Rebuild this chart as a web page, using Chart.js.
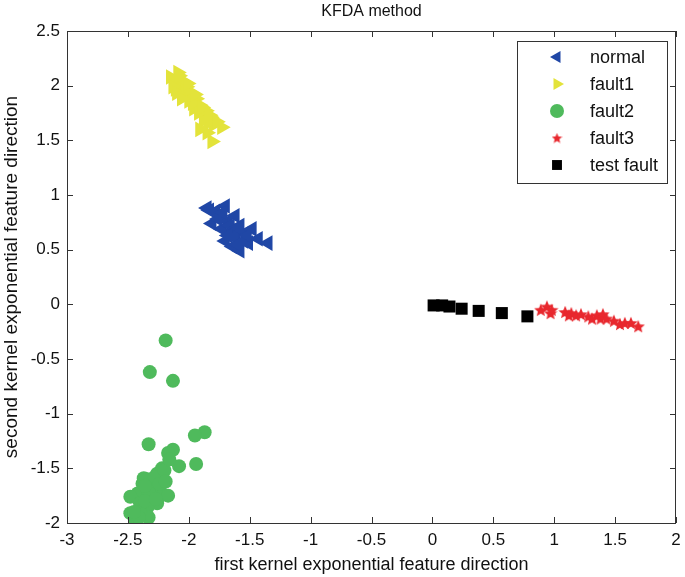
<!DOCTYPE html>
<html>
<head>
<meta charset="utf-8">
<script src="https://cdn.jsdelivr.net/npm/chart.js@4.4.0/dist/chart.umd.min.js"></script>
<style>
  html, body { margin: 0; padding: 0; background: #fff; }
  #wrap { width: 685px; height: 577px; }
</style>
</head>
<body>
<div id="wrap"><canvas id="kfdaChart" width="685" height="577"></canvas></div>
<script>
// values
const xTicks = [-3, -2.5, -2, -1.5, -1, -0.5, 0, 0.5, 1, 1.5, 2];
const yTicks = [-2, -1.5, -1, -0.5, 0, 0.5, 1, 1.5, 2, 2.5];

const normalX = [-1.85, -1.78, -1.70, -1.74, -1.68, -1.62, -1.58, -1.66, -1.54, -1.48, -1.43, -1.35, -1.70, -1.64, -1.58, -1.61, -1.73, -1.81, -1.51, -1.76, -1.66, -1.55, -1.63, -1.83, -1.72, -1.60, -1.52, -1.68, -1.60];
const normalY = [0.88, 0.85, 0.90, 0.81, 0.76, 0.81, 0.72, 0.67, 0.65, 0.69, 0.60, 0.56, 0.58, 0.53, 0.49, 0.60, 0.69, 0.74, 0.56, 0.78, 0.72, 0.58, 0.62, 0.86, 0.84, 0.70, 0.63, 0.63, 0.55];

const fault1X = [-2.15, -2.09, -2.05, -2.11, -2.02, -1.99, -2.04, -1.94, -1.91, -1.96, -1.86, -1.82, -1.88, -1.80, -1.91, -1.73, -1.81, -1.85, -2.07, -2.00, -1.92, -2.12, -1.97, -1.84, -2.03, -2.08, -2.01, -1.95, -1.89, -1.83, -1.77, -2.13, -2.10, -2.06];
const fault1Y = [2.08, 2.12, 2.04, 1.97, 1.99, 1.93, 1.90, 1.88, 1.82, 1.79, 1.77, 1.71, 1.68, 1.64, 1.60, 1.62, 1.49, 1.57, 2.01, 1.86, 1.75, 2.05, 1.84, 1.66, 1.95, 2.09, 2.02, 1.92, 1.80, 1.73, 1.67, 1.99, 1.93, 1.88];

const fault2X = [-2.19, -2.32, -2.13, -1.87, -1.95, -2.33, -2.13, -2.17, -1.94, -2.08, -2.22, -2.26, -2.34, -2.29, -2.38, -2.31, -2.25, -2.21, -2.17, -2.37, -2.42, -2.48, -2.31, -2.26, -2.40, -2.34, -2.48, -2.44, -2.33, -2.40, -2.37, -2.30, -2.33, -2.28, -2.36, -2.24, -2.41, -2.36, -2.45, -2.20, -2.16, -2.27, -2.19];
const fault2Y = [-0.33, -0.62, -0.70, -1.17, -1.20, -1.28, -1.33, -1.36, -1.46, -1.48, -1.50, -1.55, -1.60, -1.62, -1.64, -1.68, -1.69, -1.74, -1.75, -1.71, -1.73, -1.76, -1.77, -1.82, -1.82, -1.86, -1.91, -1.97, -1.95, -1.90, -1.59, -1.65, -1.72, -1.58, -1.66, -1.64, -1.95, -1.80, -1.90, -1.52, -1.42, -1.78, -1.62];

const fault3X = [0.89, 0.94, 0.97, 0.98, 1.09, 1.12, 1.14, 1.18, 1.22, 1.28, 1.31, 1.35, 1.38, 1.40, 1.43, 1.49, 1.54, 1.58, 1.63, 1.69];
const fault3Y = [-0.05, -0.02, -0.08, -0.05, -0.07, -0.10, -0.08, -0.10, -0.09, -0.11, -0.13, -0.10, -0.13, -0.09, -0.13, -0.15, -0.18, -0.17, -0.17, -0.20];

const testX = [0.01, 0.08, 0.14, 0.24, 0.38, 0.57, 0.78];
const testY = [-0.01, -0.01, -0.02, -0.04, -0.06, -0.08, -0.11];

const seriesNames = ['normal', 'fault1', 'fault2', 'fault3', 'test fault'];

function toPoints(xs, ys) {
    return xs.map((x, i) => ({ x: x, y: ys[i] }));
}

// filled five point star for fault3
function makeStar(size, color) {
    const c = document.createElement('canvas');
    c.width = size; c.height = size;
    const g = c.getContext('2d');
    const cx = size / 2, cy = size / 2 + size * 0.05, ro = size / 2, ri = ro * 0.45;
    g.beginPath();
    for (let i = 0; i < 10; i++) {
        const r = i % 2 === 0 ? ro : ri;
        const a = -Math.PI / 2 + i * Math.PI / 5;
        g.lineTo(cx + r * Math.cos(a), cy + r * Math.sin(a));
    }
    g.closePath();
    g.fillStyle = color;
    g.fill();
    return c;
}

const red = '#e8282e';
const starBig = makeStar(14, red);
const starSmall = makeStar(11, red);

const styles = [
    { color: '#2047a6', pointStyle: 'triangle', rotation: -90, radius: 9 },
    { color: '#e3e33a', pointStyle: 'triangle', rotation: 90, radius: 9 },
    { color: '#4fba5c', pointStyle: 'circle', rotation: 0, radius: 7 },
    { color: red, pointStyle: starBig, rotation: 0, radius: 7 },
    { color: '#000000', pointStyle: 'rect', rotation: 0, radius: 8.5 }
];

const allData = [
    toPoints(normalX, normalY),
    toPoints(fault1X, fault1Y),
    toPoints(fault2X, fault2Y),
    toPoints(fault3X, fault3Y),
    toPoints(testX, testY)
];

const datasets = allData.map((d, i) => ({
    label: seriesNames[i],
    data: d,
    pointStyle: styles[i].pointStyle,
    rotation: styles[i].rotation,
    pointRadius: styles[i].radius,
    backgroundColor: styles[i].color,
    borderColor: styles[i].color,
    borderWidth: 0
}));

const fontFamily = "'Liberation Sans', Arial, sans-serif";

// box around the axes, inward ticks and the title over the plot
const framePlugin = {
    id: 'frame',
    afterDatasetsDraw(chart) {
        const { ctx, chartArea: a, scales } = chart;
        ctx.save();
        ctx.strokeStyle = '#333';
        ctx.lineWidth = 1;
        ctx.strokeRect(a.left + 0.5, a.top + 0.5, a.right - a.left - 1, a.bottom - a.top);
        const len = 6;
        ctx.beginPath();
        xTicks.forEach(v => {
            const px = Math.round(scales.x.getPixelForValue(v)) + 0.5;
            ctx.moveTo(px, a.bottom); ctx.lineTo(px, a.bottom - len);
            ctx.moveTo(px, a.top); ctx.lineTo(px, a.top + len);
        });
        yTicks.forEach(v => {
            const py = Math.round(scales.y.getPixelForValue(v)) + 0.5;
            ctx.moveTo(a.left, py); ctx.lineTo(a.left + len, py);
            ctx.moveTo(a.right, py); ctx.lineTo(a.right - len, py);
        });
        ctx.stroke();

        ctx.fillStyle = '#111';
        ctx.font = '16px ' + fontFamily;
        ctx.textAlign = 'center';
        ctx.textBaseline = 'middle';
        ctx.fillText('KFDA method', (a.left + a.right) / 2, 12);
        ctx.restore();
    }
};

// legend box inside the plot
const legendPlugin = {
    id: 'boxLegend',
    afterDraw(chart) {
        const { ctx } = chart;
        const left = 517, top = 41, right = 667, bottom = 183;
        ctx.save();
        ctx.fillStyle = '#fff';
        ctx.fillRect(left, top, right - left, bottom - top);
        ctx.strokeStyle = '#333';
        ctx.lineWidth = 1;
        ctx.strokeRect(left + 0.5, top + 0.5, right - left, bottom - top);
        const rows = [57, 84, 111, 138, 165];
        const legendRadius = [7, 7, 7, 5, 7];
        ctx.font = '18px ' + fontFamily;
        ctx.textBaseline = 'middle';
        ctx.textAlign = 'left';
        seriesNames.forEach((name, i) => {
            const st = styles[i];
            const ps = i === 3 ? starSmall : st.pointStyle;
            ctx.fillStyle = st.color;
            ctx.strokeStyle = st.color;
            ctx.lineWidth = 0;
            Chart.helpers.drawPoint(ctx, { pointStyle: ps, rotation: st.rotation, radius: legendRadius[i], borderWidth: 0 }, 557, rows[i]);
            ctx.fillStyle = '#111';
            ctx.fillText(name, 590, rows[i] + 1);
        });
        ctx.restore();
    }
};

const tickFont = { family: fontFamily, size: 17 };

new Chart(document.getElementById('kfdaChart'), {
    type: 'scatter',
    data: { datasets: datasets },
    options: {
        responsive: false,
        animation: false,
        layout: { padding: { top: 31, right: 0 } },
        plugins: {
            legend: { display: false },
            tooltip: { enabled: false },
            title: { display: false }
        },
        scales: {
            x: {
                type: 'linear',
                min: -3,
                max: 2,
                afterBuildTicks: s => { s.ticks = xTicks.map(v => ({ value: v })); },
                afterFit: s => { s.height = 54; s.paddingRight = 8; },
                ticks: { font: tickFont, color: '#111', padding: 7, callback: v => String(v), maxRotation: 0 },
                grid: { display: false, drawTicks: false, tickLength: 0 },
                border: { display: false },
                title: {
                    display: true,
                    text: 'first kernel exponential feature direction',
                    color: '#111',
                    font: { family: fontFamily, size: 18 },
                    padding: { top: 0, bottom: 1 }
                }
            },
            y: {
                type: 'linear',
                min: -2,
                max: 2.5,
                afterBuildTicks: s => { s.ticks = yTicks.map(v => ({ value: v })); },
                afterFit: s => { s.width = 67; },
                ticks: { font: tickFont, color: '#111', padding: 7, callback: v => String(v) },
                grid: { display: false, drawTicks: false, tickLength: 0 },
                border: { display: false },
                title: {
                    display: true,
                    text: 'second kernel exponential feature direction',
                    color: '#111',
                    font: { family: fontFamily, size: 19 },
                    padding: { top: 0, bottom: 2 }
                }
            }
        }
    },
    plugins: [framePlugin, legendPlugin]
});
</script>
</body>
</html>
